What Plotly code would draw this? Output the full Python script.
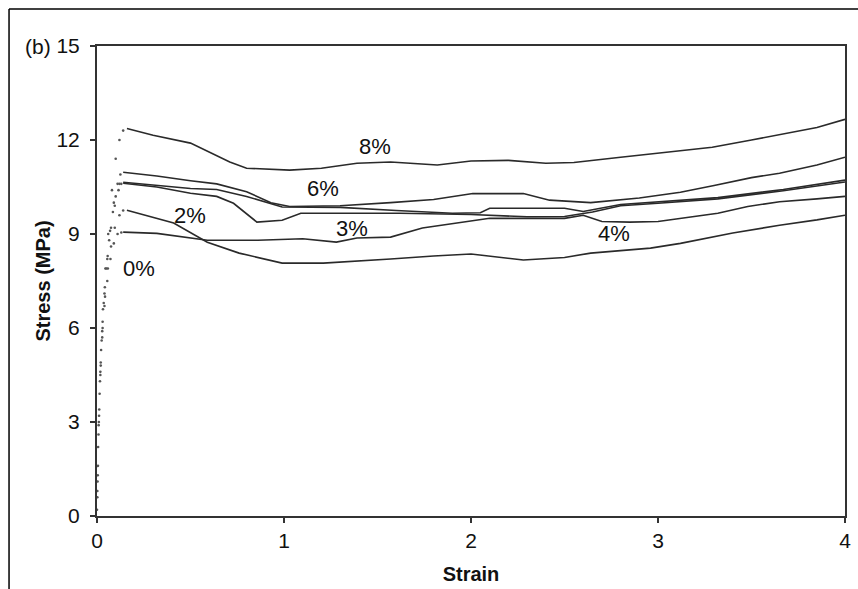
import plotly.graph_objects as go

# ---- data (strain, stress in MPa) ----
# plastic (solid) part of each curve
strain_8 = [0.16, 0.3, 0.5, 0.71, 0.8, 1.03, 1.2, 1.39, 1.57, 1.82, 2.0, 2.2, 2.4, 2.55, 2.8, 3.0, 3.29, 3.5, 3.67, 3.85, 4.0]
stress_8 = [12.37, 12.15, 11.9, 11.3, 11.1, 11.04, 11.1, 11.26, 11.3, 11.2, 11.33, 11.35, 11.26, 11.28, 11.45, 11.58, 11.77, 12.0, 12.2, 12.4, 12.66]

strain_b = [0.14, 0.32, 0.5, 0.64, 0.8, 0.93, 1.03, 1.3, 1.57, 1.8, 2.01, 2.28, 2.42, 2.64, 2.9, 3.12, 3.3, 3.5, 3.65, 3.85, 4.0]
stress_b = [10.97, 10.85, 10.7, 10.6, 10.35, 10.0, 9.88, 9.9, 10.0, 10.1, 10.29, 10.29, 10.08, 10.0, 10.15, 10.33, 10.55, 10.8, 10.94, 11.2, 11.45]

strain_c = [0.14, 0.32, 0.5, 0.64, 0.8, 0.99, 1.3, 1.6, 1.9, 2.05, 2.1, 2.5, 2.6, 2.8, 3.0, 3.32, 3.67, 4.0]
stress_c = [10.65, 10.55, 10.45, 10.42, 10.2, 9.86, 9.85, 9.75, 9.66, 9.68, 9.82, 9.82, 9.72, 9.94, 10.02, 10.16, 10.42, 10.72]

strain_d = [0.14, 0.32, 0.5, 0.64, 0.73, 0.855, 0.99, 1.09, 1.62, 2.0, 2.3, 2.5, 2.65, 2.8, 3.0, 3.32, 3.67, 4.0]
stress_d = [10.62, 10.5, 10.3, 10.2, 9.98, 9.38, 9.44, 9.66, 9.66, 9.62, 9.55, 9.56, 9.7, 9.9, 9.98, 10.12, 10.38, 10.66]

strain_e = [0.16, 0.41, 0.59, 0.76, 0.99, 1.21, 1.57, 1.8, 2.0, 2.28, 2.5, 2.64, 2.96, 3.12, 3.4, 3.65, 3.85, 4.0]
stress_e = [9.76, 9.35, 8.74, 8.39, 8.07, 8.07, 8.2, 8.3, 8.36, 8.17, 8.25, 8.39, 8.55, 8.7, 9.03, 9.28, 9.45, 9.6]

strain_f = [0.14, 0.32, 0.59, 0.86, 1.1, 1.28, 1.39, 1.57, 1.74, 1.96, 2.1, 2.5, 2.6, 2.7, 2.85, 3.0, 3.2, 3.32, 3.48, 3.65, 3.85, 4.0]
stress_f = [9.06, 9.02, 8.8, 8.8, 8.85, 8.74, 8.87, 8.9, 9.19, 9.38, 9.5, 9.5, 9.6, 9.4, 9.38, 9.4, 9.55, 9.66, 9.88, 10.03, 10.12, 10.2]

# elastic (dotted) rise of each curve
rise_x_8 = [0.0, 0.006, 0.014, 0.022, 0.032, 0.045, 0.06, 0.08, 0.1, 0.12, 0.14]
rise_y_8 = [0.2, 2.2, 3.9, 5.3, 6.6, 7.9, 9.0, 10.4, 11.4, 12.0, 12.3]
rise_x_b = [0.003, 0.01, 0.018, 0.028, 0.04, 0.055, 0.07, 0.09, 0.11, 0.125]
rise_y_b = [1.1, 3.0, 4.6, 5.9, 7.1, 8.2, 9.1, 10.0, 10.6, 10.9]
rise_x_c = [0.002, 0.008, 0.016, 0.025, 0.036, 0.05, 0.065, 0.085, 0.1, 0.12]
rise_y_c = [0.6, 2.6, 4.3, 5.6, 6.8, 7.9, 8.8, 9.7, 10.2, 10.6]
rise_x_d = [0.005, 0.012, 0.02, 0.03, 0.042, 0.057, 0.075, 0.095, 0.115, 0.13]
rise_y_d = [1.6, 3.4, 4.9, 6.2, 7.3, 8.3, 9.2, 9.9, 10.4, 10.6]
rise_x_e = [0.004, 0.011, 0.02, 0.03, 0.043, 0.058, 0.075, 0.095, 0.12, 0.14]
rise_y_e = [1.3, 3.2, 4.8, 6.0, 7.0, 7.9, 8.6, 9.2, 9.6, 9.75]
rise_x_f = [0.002, 0.009, 0.018, 0.028, 0.04, 0.055, 0.072, 0.09, 0.11, 0.13]
rise_y_f = [0.8, 2.9, 4.5, 5.7, 6.7, 7.5, 8.2, 8.7, 9.0, 9.05]

# curve labels and where they sit
label_text = ["8%", "6%", "2%", "3%", "4%", "0%"]
label_x = [1.487, 1.209, 0.497, 1.364, 2.765, 0.225]
label_y = [11.80, 10.46, 9.60, 9.19, 9.03, 7.91]

x_ticks = [0, 1, 2, 3, 4]
y_ticks = [0, 3, 6, 9, 12, 15]

FONT = "Liberation Sans, Arial, Helvetica, sans-serif"

fig = go.Figure()

curves = [(strain_8, stress_8), (strain_b, stress_b), (strain_c, stress_c),
          (strain_d, stress_d), (strain_e, stress_e), (strain_f, stress_f)]
rises = [(rise_x_8, rise_y_8), (rise_x_b, rise_y_b), (rise_x_c, rise_y_c),
         (rise_x_d, rise_y_d), (rise_x_e, rise_y_e), (rise_x_f, rise_y_f)]

for (rx, ry), (sx, sy) in zip(rises, curves):
    fig.add_trace(go.Scatter(x=rx, y=ry, mode="markers",
                             marker=dict(size=2.6, color="#555555"),
                             showlegend=False, hoverinfo="skip"))
    fig.add_trace(go.Scatter(x=sx, y=sy, mode="lines",
                             line=dict(color="#2a2a2a", width=1.6),
                             showlegend=False))

for t, lx, ly in zip(label_text, label_x, label_y):
    fig.add_annotation(x=lx, y=ly, text=t, showarrow=False,
                       font=dict(family=FONT, size=22, color="#111111"))

# panel label
fig.add_annotation(xref="paper", yref="paper", x=-0.079, y=1.0,
                   xanchor="center", yanchor="middle", text="(b)",
                   showarrow=False, font=dict(family=FONT, size=21, color="#111111"))

# outer frame (top and left)
fig.add_shape(type="line", xref="paper", yref="paper", x0=-0.1176, x1=1.03,
              y0=1.0787, y1=1.0787, line=dict(color="black", width=1.5))
fig.add_shape(type="line", xref="paper", yref="paper", x0=-0.1176, x1=-0.1176,
              y0=1.0787, y1=-0.2, line=dict(color="black", width=1.5))

axis_common = dict(showline=True, linecolor="#333333", linewidth=2, mirror=True,
                   ticks="outside", ticklen=5, tickwidth=1.5, tickcolor="#333333",
                   showgrid=False, zeroline=False, automargin=False,
                   tickfont=dict(family=FONT, size=21, color="#111111"))

fig.update_xaxes(range=[0, 4], tickvals=x_ticks, ticklabelstandoff=0,
                 title=dict(text="<b>Strain</b>", standoff=16,
                            font=dict(family=FONT, size=20, color="#111111")),
                 **axis_common)
fig.update_yaxes(range=[0, 15], tickvals=y_ticks, ticklabelstandoff=6,
                 title=dict(text="<b>Stress (MPa)</b>", standoff=0,
                            font=dict(family=FONT, size=20, color="#111111")),
                 **axis_common)

fig.update_layout(width=858, height=589,
                  margin=dict(l=97, r=13, t=46, b=73),
                  paper_bgcolor="white", plot_bgcolor="white",
                  font=dict(family=FONT))

fig.write_html("out.html", config={"displayModeBar": False},
               post_script="document.body.style.margin='0';document.body.style.overflow='hidden';")
